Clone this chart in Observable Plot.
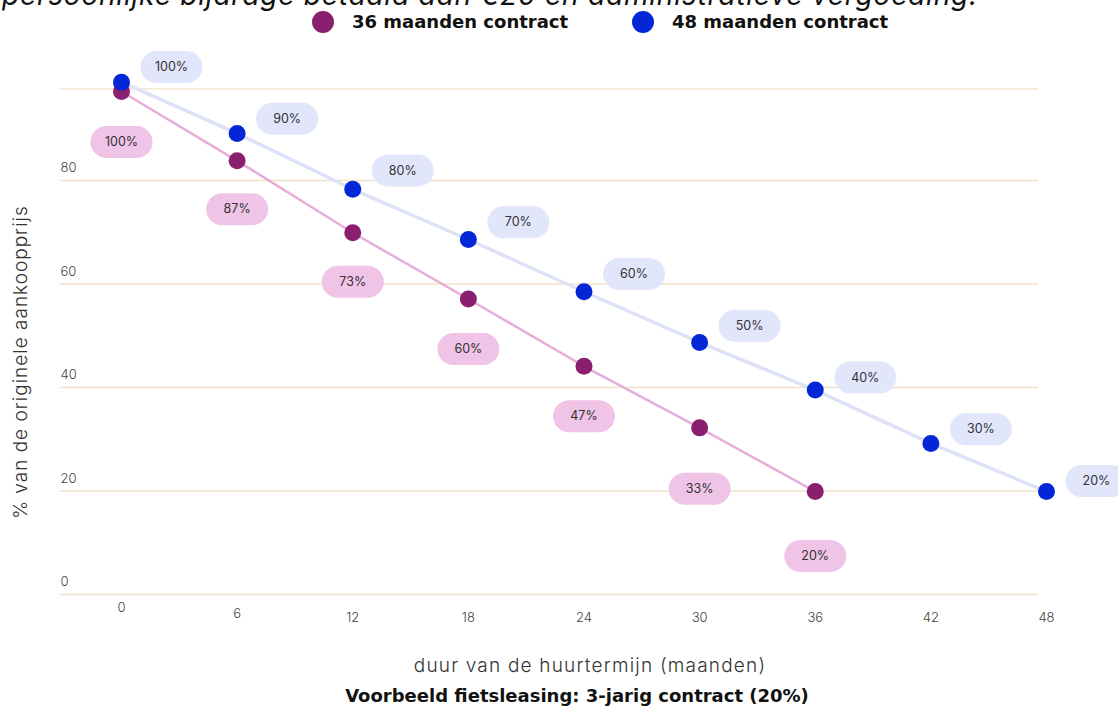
<!DOCTYPE html>
<html>
<head>
<meta charset="utf-8">
<script src="https://cdn.jsdelivr.net/npm/d3@7"></script>
<script src="https://cdn.jsdelivr.net/npm/@observablehq/plot@0.6"></script>
<style>
  html, body { margin: 0; padding: 0; background: #fff; }
  body { width: 1118px; height: 708px; position: relative; overflow: hidden; font-family: Inter, "Open Sans", sans-serif; color: #111; }
  .abs { position: absolute; white-space: nowrap; }
  #subtitle { left: 2px; top: -19px; font-size: 28px; line-height: 28px; letter-spacing: 0.8px; font-style: italic; color: #111; }
  .legdot { position: absolute; width: 22px; height: 22px; border-radius: 50%; }
  .legtxt { position: absolute; top: 11px; font-family: "DejaVu Sans", sans-serif; font-size: 18px; font-weight: 700; line-height: 22px; color: #111; }
  #chart { position: absolute; left: 0; top: 40px; }
  #ylabel { left: 20px; top: 362px; font-size: 19px; letter-spacing: 1px; font-weight: 300; color: #333; transform: translate(-50%, -50%) rotate(-90deg); }
  #xlabel { left: 590px; top: 665px; font-size: 19px; letter-spacing: 1.2px; font-weight: 300; color: #333; transform: translate(-50%, -50%); }
  #caption { left: 577px; top: 695px; font-family: "DejaVu Sans", sans-serif; font-size: 18px; font-weight: 700; color: #111; transform: translate(-50%, -50%); }
</style>
</head>
<body>
<div id="subtitle" class="abs">persoonlijke bijdrage betaald aan €20 en administratieve vergoeding.</div>
<div class="legdot" style="left:312px; top:11px; background:#8b1f6f;"></div>
<div class="legtxt" style="left:352px;">36 maanden contract</div>
<div class="legdot" style="left:632px; top:11px; background:#0327d6;"></div>
<div class="legtxt" style="left:672px;">48 maanden contract</div>
<div id="chart"></div>
<div id="ylabel" class="abs">% van de originele aankoopprijs</div>
<div id="xlabel" class="abs">duur van de huurtermijn (maanden)</div>
<div id="caption" class="abs">Voorbeeld fietsleasing: 3-jarig contract (20%)</div>
<script>
// ---- data ----
const months36 = [0, 6, 12, 18, 24, 30, 36];
const values36 = [97.2, 83.8, 69.9, 57.1, 44.1, 32.2, 19.9];
const labels36 = [100, 87, 73, 60, 47, 33, 20];

const months48 = [0, 6, 12, 18, 24, 30, 36, 42, 48];
const values48 = [99.0, 89.1, 78.3, 68.6, 58.5, 48.7, 39.5, 29.2, 19.9];
const labels48 = [100, 90, 80, 70, 60, 50, 40, 30, 20];

const xTicks = [0, 6, 12, 18, 24, 30, 36, 42, 48];
const yTicks = [0, 20, 40, 60, 80];
const yGrid = [0, 20, 40, 60, 80, 97.7];

const d36 = months36.map((m, i) => ({month: m, value: values36[i], label: labels36[i]}));
const d48 = months48.map((m, i) => ({month: m, value: values48[i], label: labels48[i]}));

// pill-shaped symbol for the value labels
const pill = {
  draw(ctx) {
    const w = 31, h = 16;
    ctx.moveTo(-w + h, -h);
    ctx.lineTo(w - h, -h);
    ctx.arc(w - h, 0, h, -Math.PI / 2, Math.PI / 2);
    ctx.lineTo(-w + h, h);
    ctx.arc(-w + h, 0, h, Math.PI / 2, Math.PI * 3 / 2);
    ctx.closePath();
  }
};

const tickFont = {fontSize: 13, fill: "#444", fontFamily: "Inter, sans-serif", fontWeight: 300};
const pillFont = {fontSize: 12.5, fill: "#333", fontFamily: "Inter, sans-serif"};

const chart = Plot.plot({
  width: 1118,
  height: 600,
  marginLeft: 121,
  marginRight: 72,
  marginTop: 36.5,
  marginBottom: 46,
  x: {domain: [0, 48], axis: null},
  y: {domain: [0, 100], axis: null},
  marks: [
    Plot.ruleY(yGrid, {y: d => d, stroke: "#f0e2c6", strokeWidth: 1.3, insetLeft: -61, insetRight: 8}),
    Plot.line(d48, {x: "month", y: "value", stroke: "#dde2f6", strokeWidth: 3.5}),
    Plot.line(d36, {x: "month", y: "value", stroke: "#e8acd9", strokeWidth: 2.5}),
    Plot.dot(d36, {x: "month", y: "label", dy: 65, symbol: pill, fill: "#efc4e6", stroke: "none"}),
    Plot.text(d36, {x: "month", y: "label", dy: 65, text: d => d.label + "%", ...pillFont}),
    Plot.dot(d48, {x: "month", y: "label", dx: 50, dy: -10, symbol: pill, fill: "#e1e6fb", stroke: "none"}),
    Plot.text(d48, {x: "month", y: "label", dx: 50, dy: -10, text: d => d.label + "%", ...pillFont}),
    Plot.dot(d36, {x: "month", y: "value", r: 8.5, fill: "#8b1f6f"}),
    Plot.dot(d48, {x: "month", y: "value", r: 8.5, fill: "#0327d6"}),
    Plot.text(yTicks, {y: d => d, frameAnchor: "left", dx: -61, dy: -12.5, textAnchor: "start", text: d => String(d), ...tickFont}),
    Plot.text(xTicks.filter(d => d === 0), {x: d => d, frameAnchor: "bottom", dy: 17, text: d => String(d), ...tickFont}),
    Plot.text(xTicks.filter(d => d === 6), {x: d => d, frameAnchor: "bottom", dy: 23, text: d => String(d), ...tickFont}),
    Plot.text(xTicks.filter(d => d > 6), {x: d => d, frameAnchor: "bottom", dy: 27, text: d => String(d), ...tickFont})
  ]
});
document.getElementById("chart").appendChild(chart);
</script>
</body>
</html>
